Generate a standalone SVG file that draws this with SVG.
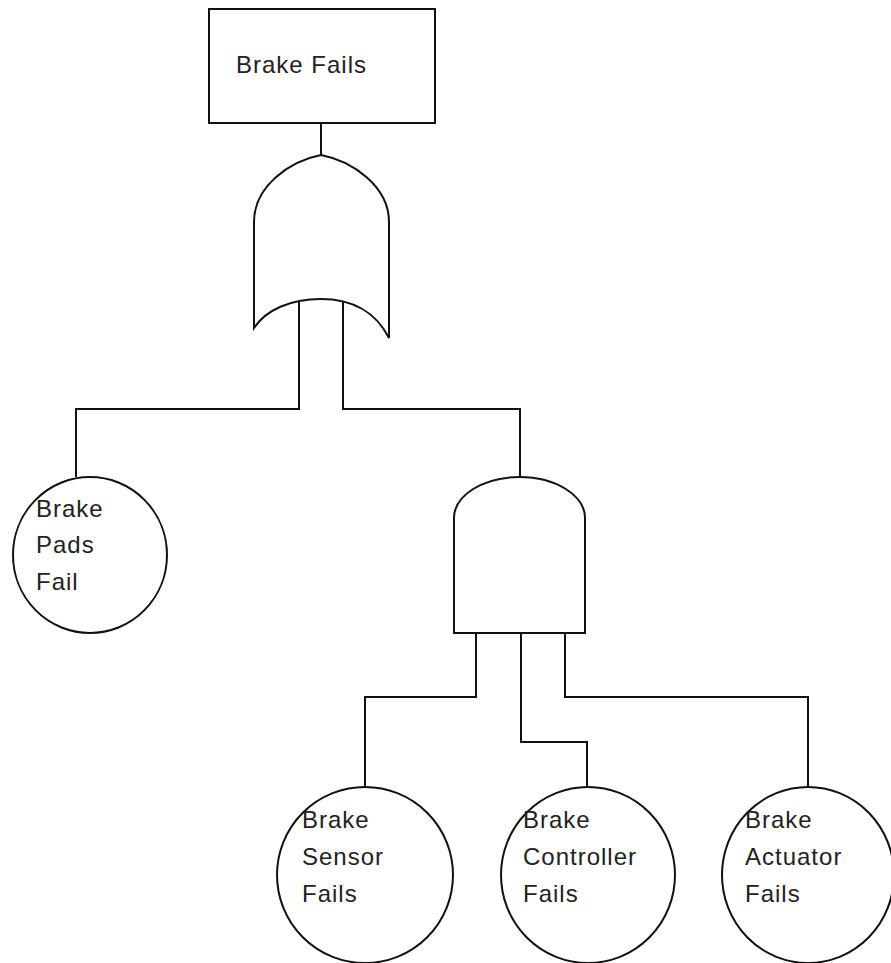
<svg xmlns="http://www.w3.org/2000/svg" width="891" height="963" viewBox="0 0 891 963">
<style>
.s{fill:none;stroke:#111;stroke-width:2}
.n{fill:#fff;stroke:#111;stroke-width:2}
.t{font-family:"Liberation Sans",Arial,sans-serif;font-size:24px;letter-spacing:1px;fill:#222}
</style>
<rect width="891" height="963" fill="#fff"/>
<g id="connectors" class="s">
<path d="M321,123 V155"/>
<path d="M299,301 V409 H76 V477"/>
<path d="M343,301 V409 H520 V477"/>
<path d="M476,633 V697 H365 V787"/>
<path d="M521,633 V742 H587 V787"/>
<path d="M565,633 V697 H808 V787"/>
</g>
<g id="top">
<rect class="n" x="209" y="9" width="226" height="114"/>
<text class="t" x="236" y="73">Brake Fails</text>
</g>
<g id="or-gate">
<path class="n" d="M254,328 L254,222 C254,186 290,161 321,155 C352,161 389,186 389,222 L389,338 C376,312 352,299 321,299 C290,299 266,310 254,328 Z"/>
</g>
<g id="and-gate">
<path class="n" d="M454,633 L454,518 A65.5,41 0 0 1 585,518 L585,633 Z"/>
</g>
<g id="pads">
<ellipse class="n" cx="90" cy="555" rx="77" ry="78"/>
<text class="t" x="36" y="517">Brake</text>
<text class="t" x="36" y="553">Pads</text>
<text class="t" x="36" y="590">Fail</text>
</g>
<g id="sensor">
<ellipse class="n" cx="365" cy="875" rx="88" ry="88"/>
<text class="t" x="302" y="828">Brake</text>
<text class="t" x="302" y="865">Sensor</text>
<text class="t" x="302" y="902">Fails</text>
</g>
<g id="controller">
<ellipse class="n" cx="588" cy="875" rx="87" ry="88"/>
<text class="t" x="523" y="828">Brake</text>
<text class="t" x="523" y="865">Controller</text>
<text class="t" x="523" y="902">Fails</text>
</g>
<g id="actuator">
<ellipse class="n" cx="808" cy="875" rx="86" ry="88"/>
<text class="t" x="745" y="828">Brake</text>
<text class="t" x="745" y="865">Actuator</text>
<text class="t" x="745" y="902">Fails</text>
</g>
</svg>
